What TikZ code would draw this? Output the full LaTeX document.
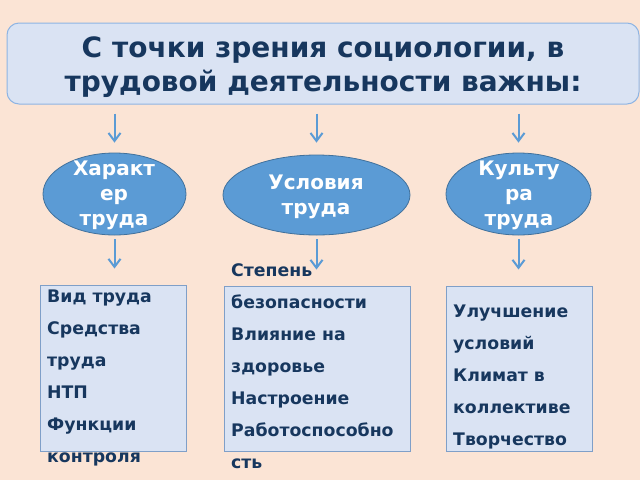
\documentclass[tikz,border=0pt]{standalone}
\usepackage{fontspec}
\setmainfont{DejaVu Sans}
\usetikzlibrary{shapes.geometric,arrows.meta}
\definecolor{bg}{HTML}{FBE4D5}
\definecolor{boxfill}{HTML}{DAE3F3}
\definecolor{titleborder}{HTML}{8EB4E3}
\definecolor{boxborder}{HTML}{7F9FC8}
\definecolor{ellfill}{HTML}{5B9BD5}
\definecolor{ellborder}{HTML}{41719C}
\definecolor{txt}{HTML}{17375E}
\definecolor{arrowc}{HTML}{5B9BD5}
\begin{document}
\begin{tikzpicture}[x=1pt,y=-1pt,
  titlebox/.style={draw=titleborder, fill=boxfill, rounded corners=12pt, line width=1pt,
    minimum width=632pt, minimum height=81pt, inner sep=0pt},
  titletext/.style={text=txt, align=center, inner sep=0pt,
    font=\fontsize{28}{34}\selectfont\bfseries},
  ell/.style={ellipse, draw=ellborder, fill=ellfill, line width=0.8pt, inner sep=0pt},
  elltext/.style={text=white, align=center, inner sep=0pt,
    font=\fontsize{20}{25}\selectfont\bfseries},
  listbox/.style={draw=boxborder, fill=boxfill, line width=1pt, inner sep=0pt},
  listtext/.style={text=txt, align=left, inner sep=0pt, anchor=north west,
    font=\fontsize{17.3}{32}\selectfont\bfseries},
  arr/.style={draw=arrowc, line width=2pt, -{Straight Barb[length=8pt,width=12pt]}}
]
\useasboundingbox[fill=bg] (0,0) rectangle (640,480);

% title
\node[titlebox] (title) at (323,63.5) {};
\node[titletext, anchor=north] (titlet) at (323,37)
  {С точки зрения социологии, в\\трудовой деятельности важны:};

% ellipses
\node[ell, minimum width=143pt, minimum height=82pt] (e1) at (114.5,194) {};
\node[ell, minimum width=187pt, minimum height=80pt] (e2) at (316.5,195) {};
\node[ell, minimum width=145pt, minimum height=82pt] (e3) at (518.5,194) {};
\node[elltext] (e1t) at (114,195) {Характ\\ер\\труда};
\node[elltext] (e2t) at (316,197) {Условия\\труда};
\node[elltext] (e3t) at (519,195) {Культу\\ра\\труда};

% boxes
\node[listbox, minimum width=146pt, minimum height=166pt] (b1) at (113,368) {};
\node[listbox, minimum width=186pt, minimum height=165pt] (b2) at (317,368.5) {};
\node[listbox, minimum width=146pt, minimum height=165pt] (b3) at (519,368.5) {};
\node[listtext] (b1t) at (47,290)
  {Вид труда\\Средства\\труда\\НТП\\Функции\\контроля};
\node[listtext] (b2t) at (231,263)
  {Степень\\безопасности\\Влияние на\\здоровье\\Настроение\\Работоспособно\\сть};
\node[listtext] (b3t) at (453,305)
  {Улучшение\\условий\\Климат в\\коллективе\\Творчество};

% arrows
\draw[arr, shorten <=9pt, shorten >=10pt] (title.south -| e1) -- (e1.north);
\draw[arr, shorten <=9pt, shorten >=12pt] (title.south -| e2) -- (e2.north);
\draw[arr, shorten <=9pt, shorten >=10pt] (title.south -| e3) -- (e3.north);
\draw[arr, shorten <=4pt, shorten >=16pt] (e1.south) -- (e1.south |- b1.north);
\draw[arr, shorten <=4pt, shorten >=16pt] (e2.south) -- (e2.south |- b2.north);
\draw[arr, shorten <=4pt, shorten >=16pt] (e3.south) -- (e3.south |- b3.north);
\end{tikzpicture}
\end{document}
